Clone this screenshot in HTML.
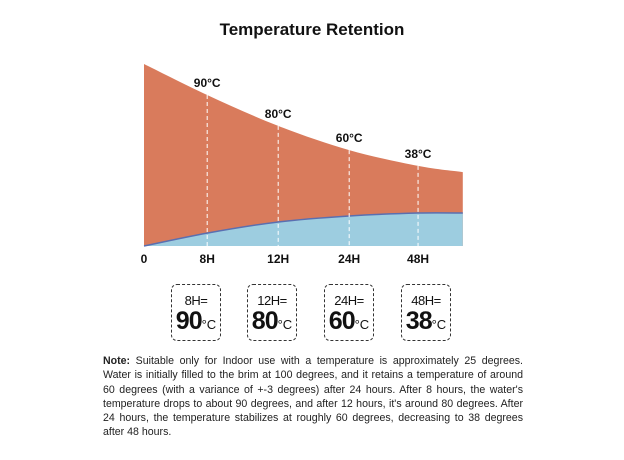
<!DOCTYPE html>
<html><head><meta charset="utf-8">
<style>
body{margin:0;width:624px;height:460px;background:#fff;font-family:"Liberation Sans",sans-serif;position:relative;overflow:hidden}
#title{position:absolute;top:20px;left:0;width:624px;text-align:center;font-weight:bold;font-size:17px;color:#111}
svg{position:absolute;left:0;top:0}
.box{position:absolute;top:284px;width:48px;height:55px;border:1.5px dashed #333;border-radius:6px;text-align:center;color:#111}
.box .h{font-size:13px;margin-top:8px;letter-spacing:-0.5px}
.box .v{font-size:25px;font-weight:bold;line-height:26px;letter-spacing:-1px}
.box .v span{font-size:13px;font-weight:normal;letter-spacing:0}
#note{position:absolute;left:103px;top:354px;width:420px;font-size:10.6px;line-height:14.3px;color:#222}
#note div{text-align:justify;text-align-last:justify;white-space:nowrap;overflow:hidden}
#note div.last{text-align-last:left}
</style></head><body>
<div id="title">Temperature Retention</div>
<svg id="chart" width="624" height="280"></svg>
<div class="box" style="left:171px"><div class="h">8H=</div><div class="v">90<span>°C</span></div></div>
<div class="box" style="left:247px"><div class="h">12H=</div><div class="v">80<span>°C</span></div></div>
<div class="box" style="left:324px"><div class="h">24H=</div><div class="v">60<span>°C</span></div></div>
<div class="box" style="left:401px"><div class="h">48H=</div><div class="v">38<span>°C</span></div></div>
<div id="note">
<div><b>Note:</b> Suitable only for Indoor use with a temperature is approximately 25 degrees.</div>
<div>Water is initially filled to the brim at 100 degrees, and it retains a temperature of around</div>
<div>60 degrees (with a variance of +-3 degrees) after 24 hours. After 8 hours, the water's</div>
<div>temperature drops to about 90 degrees, and after 12 hours, it's around 80 degrees. After</div>
<div>24 hours, the temperature stabilizes at roughly 60 degrees, decreasing to 38 degrees</div>
<div class="last">after 48 hours.</div>
</div>
<script>
const xVals=[0,0.89,1.89,2.89,3.86,4.49];
const topVals=[100,83,66,52.7,44,40.6];
const lowVals=[0,7.1,13.2,16.5,18.1,18.1];
const tickLabels=["0","8H","12H","24H","48H"];
const markLabels=["","90°C","80°C","60°C","38°C"];
const NS="http://www.w3.org/2000/svg";
const svg=document.getElementById('chart');
const x=v=>144+v*71;
const y=v=>246-v*1.82;
function path(vals){
  const p=xVals.map((xv,i)=>[x(xv),y(vals[i])]);
  let d=`M${p[0][0]},${p[0][1]}`;
  for(let i=0;i<p.length-1;i++){
    const p0=p[Math.max(i-1,0)],p1=p[i],p2=p[i+1],p3=p[Math.min(i+2,p.length-1)];
    const c1=[p1[0]+(p2[0]-p0[0])/6,p1[1]+(p2[1]-p0[1])/6];
    const c2=[p2[0]-(p3[0]-p1[0])/6,p2[1]-(p3[1]-p1[1])/6];
    d+=`C${c1[0]},${c1[1]} ${c2[0]},${c2[1]} ${p2[0]},${p2[1]}`;
  }
  return d;
}
function el(t,a){const e=document.createElementNS(NS,t);for(const k in a)e.setAttribute(k,a[k]);svg.appendChild(e);return e;}
const last=x(xVals[xVals.length-1]),b=y(0);
let e=el('path',{d:path(topVals)+`L${last},${b}L${x(0)},${b}Z`,fill:'#d97b5c'});


e=el('path',{d:path(lowVals)+`L${last},${b}L${x(0)},${b}Z`,fill:'#9dcde0'});


e=el('path',{d:path(lowVals),fill:'none',stroke:'#5a6fb0','stroke-width':1.5});


tickLabels.forEach((t,i)=>{
  const xx=x(xVals[i]);
  if(i>0){
    let l=el('line',{x1:xx,x2:xx,y1:y(topVals[i]),y2:b,stroke:'#fff','stroke-width':1,'stroke-dasharray':'4,3'});
    
    
    let m=el('text',{x:xx,y:y(topVals[i])-8,'text-anchor':'middle','font-size':12,'font-weight':'bold',fill:'#111'});
    m.textContent=markLabels[i];
    
    
  }
  let tx=el('text',{x:xx,y:263,'text-anchor':'middle','font-size':12,'font-weight':'bold',fill:'#111'});
  tx.textContent=t;
  
  
});
</script>
</body></html>
